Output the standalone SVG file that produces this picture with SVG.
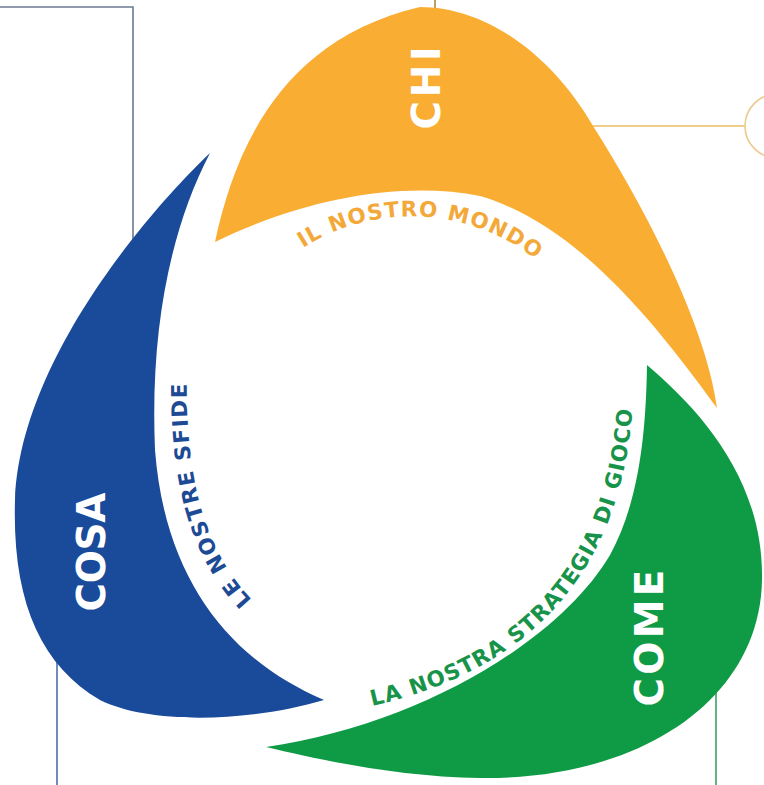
<svg xmlns="http://www.w3.org/2000/svg" width="764" height="785" viewBox="0 0 764 785">
<style>
.big{font-family:"DejaVu Sans","Open Sans",sans-serif;font-weight:700;font-size:39px;fill:#ffffff}
.small{font-family:"DejaVu Sans","Open Sans",sans-serif;font-weight:700;font-size:21.5px}
.conn{fill:none;stroke-width:1.6}
</style>
<defs>
<path id="p-mondo" d="M 303,248 A 201 201 0 0 1 548,270"/>
<path id="p-sfide" d="M 252,600 C 205,550 184,480 187,366"/>
<path id="p-strategia" d="M 372,706 C 540,668 636,560 634,362"/>
</defs>
<rect width="764" height="785" fill="#ffffff"/>
<g id="connectors">
<path class="conn" d="M 0,7 H 133 V 250" stroke="#6B7A93"/>
<path class="conn" d="M 435,0 V 10" stroke="#A88A3A"/>
<path class="conn" d="M 590,126 H 745" stroke="#E7BE63"/>
<circle cx="777" cy="126" r="32" fill="#ffffff" stroke="#EACB8C" stroke-width="1.6"/>
<path class="conn" d="M 57,660 V 785" stroke="#4F6FA8"/>
<path class="conn" d="M 716,690 V 785" stroke="#3DA060"/>
</g>
<g id="node-chi">
<path d="M 215,242 C 235,150 280,40 420,7 C 490,7 555,60 593,126 C 640,200 705,320 717,408 C 660,330 580,225 480,196 C 400,180 300,200 215,242 Z" fill="#F9AE33"/>
<text class="big" transform="rotate(-90 440 88)" x="440" y="88" text-anchor="middle" textLength="83" lengthAdjust="spacing">CHI</text>
<text class="small" fill="#F3A93A"><textPath href="#p-mondo" textLength="248" lengthAdjust="spacing">IL NOSTRO MONDO</textPath></text>
</g>
<g id="node-cosa">
<path d="M 210,153 C 150,210 20,360 15,500 C 12,600 40,665 100,700 C 150,725 250,722 324,700 C 230,660 165,580 155,450 C 150,330 170,230 210,153 Z" fill="#1A4A9A"/>
<text class="big" transform="rotate(-90 105 552)" x="105" y="552" text-anchor="middle" textLength="119" lengthAdjust="spacing">COSA</text>
<text class="small" fill="#1D4A94"><textPath href="#p-sfide" textLength="232" lengthAdjust="spacing">LE NOSTRE SFIDE</textPath></text>
</g>
<g id="node-come">
<path d="M 647,365 C 700,410 764,480 762,580 C 760,700 640,780 480,778 C 400,777 320,760 266,747 C 420,725 560,640 610,555 C 640,500 646,430 647,365 Z" fill="#0F9A45"/>
<text class="big" transform="rotate(-90 663 638)" x="663" y="638" text-anchor="middle" textLength="137" lengthAdjust="spacing">COME</text>
<text class="small" fill="#17934A"><textPath href="#p-strategia" textLength="428" lengthAdjust="spacing">LA NOSTRA STRATEGIA DI GIOCO</textPath></text>
</g>
</svg>
